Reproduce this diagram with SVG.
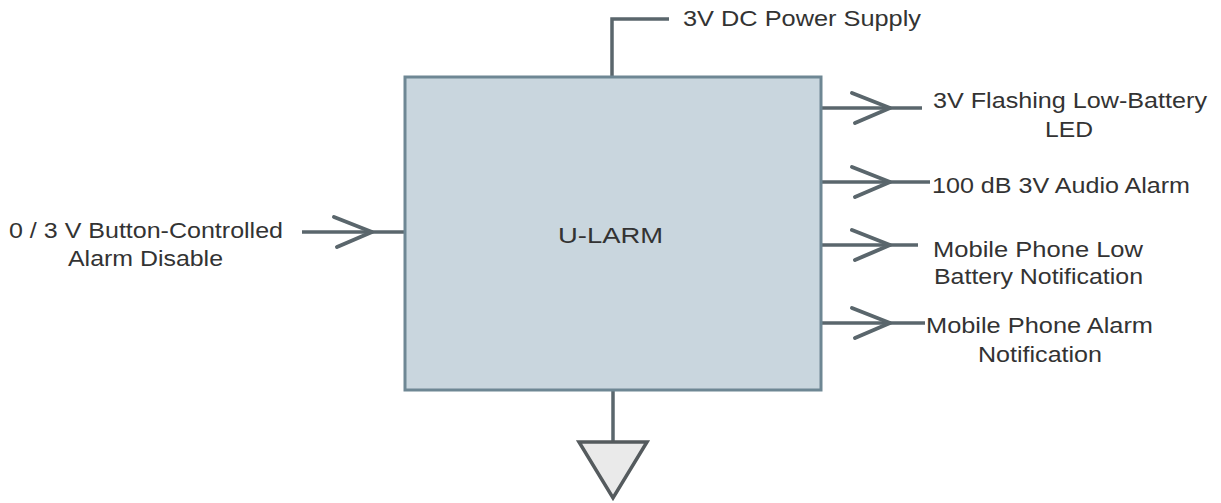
<svg xmlns="http://www.w3.org/2000/svg" width="1221" height="503" viewBox="0 0 1221 503">
<style>
text{font-family:"Liberation Sans",Arial,sans-serif;font-size:22px;fill:#333}
.ln{stroke:#5a666c;stroke-width:3.5;fill:none}
.chev{stroke:#5a666c;stroke-width:4;fill:none;stroke-linecap:round;stroke-linejoin:round}
</style>
<defs>
<path id="chev" d="M-38,-15 L0,0 L-35,15"/>
</defs>
<rect width="1221" height="503" fill="#ffffff"/>
<g id="connectors">
<polyline class="ln" points="612,77 612,19 669,19"/>
<line class="ln" x1="302" y1="232" x2="404" y2="232"/>
<use href="#chev" class="chev" transform="translate(372,232)"/>
<line class="ln" x1="821" y1="108" x2="922" y2="108"/>
<use href="#chev" class="chev" transform="translate(890,108)"/>
<line class="ln" x1="821" y1="182" x2="930" y2="182"/>
<use href="#chev" class="chev" transform="translate(890,182)"/>
<line class="ln" x1="821" y1="245" x2="918" y2="245"/>
<use href="#chev" class="chev" transform="translate(890,245)"/>
<line class="ln" x1="821" y1="323" x2="925" y2="323"/>
<use href="#chev" class="chev" transform="translate(890,323)"/>
<line class="ln" x1="613" y1="390" x2="613" y2="442"/>
</g>
<g id="ularm">
<rect x="405" y="77" width="416" height="313" fill="#c9d6de" stroke="#6e8794" stroke-width="3"/>
<text x="558" y="243" textLength="105" lengthAdjust="spacingAndGlyphs">U-LARM</text>
</g>
<g id="ground">
<polygon points="579,442 647,442 613,498" fill="#eaeaea" stroke="#555b5e" stroke-width="3.5" stroke-linejoin="miter"/>
</g>
<g id="power">
<text x="683" y="26" textLength="238" lengthAdjust="spacingAndGlyphs">3V DC Power Supply</text>
</g>
<g id="disable">
<text x="9" y="238" textLength="274" lengthAdjust="spacingAndGlyphs">0 / 3 V Button-Controlled</text>
<text x="68" y="266" textLength="155" lengthAdjust="spacingAndGlyphs">Alarm Disable</text>
</g>
<g id="led">
<text x="933" y="108" textLength="274" lengthAdjust="spacingAndGlyphs">3V Flashing Low-Battery</text>
<text x="1045" y="137" textLength="48" lengthAdjust="spacingAndGlyphs">LED</text>
</g>
<g id="audio">
<text x="932" y="193" textLength="258" lengthAdjust="spacingAndGlyphs">100 dB 3V Audio Alarm</text>
</g>
<g id="lowbatt">
<text x="933" y="257" textLength="210" lengthAdjust="spacingAndGlyphs">Mobile Phone Low</text>
<text x="934" y="284" textLength="209" lengthAdjust="spacingAndGlyphs">Battery Notification</text>
</g>
<g id="alarmnotif">
<text x="926" y="333" textLength="227" lengthAdjust="spacingAndGlyphs">Mobile Phone Alarm</text>
<text x="978" y="362" textLength="124" lengthAdjust="spacingAndGlyphs">Notification</text>
</g>
</svg>
